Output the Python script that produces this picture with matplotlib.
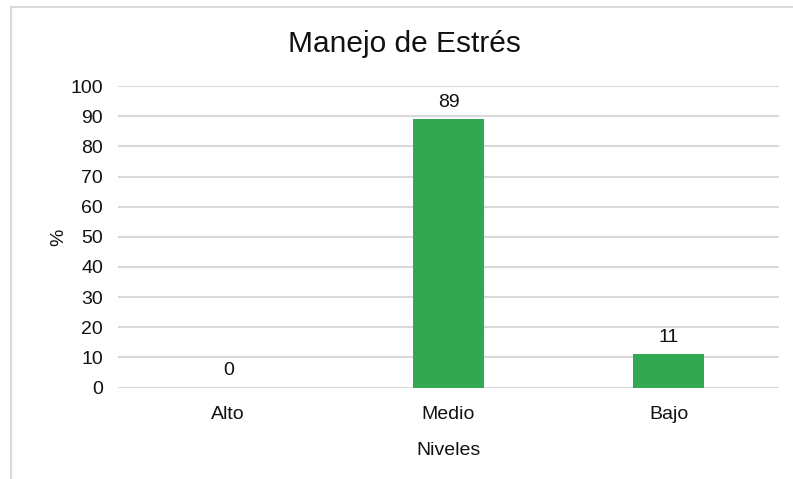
import numpy as np
import matplotlib.pyplot as plt
from matplotlib.patches import Rectangle

plt.rc('font', family='Liberation Sans', size=14)

niveles = ['Alto', 'Medio', 'Bajo']
porcentajes = [0, 89, 11]

fig = plt.figure(figsize=(7.93, 4.79), dpi=100)
ax = fig.add_axes([0.149, 0.191, 0.833, 0.629])

# light frame around the chart area
fig.patches.append(Rectangle((11/793, -0.1), 1.2, 1 - 7/479 + 0.1,
                             transform=fig.transFigure, fill=False,
                             edgecolor='#D9D9D9', linewidth=1.5))

x = np.arange(len(niveles))
bars = ax.bar(x, porcentajes, width=0.32, color='#33A852', zorder=2)

for xi, v in zip(x, porcentajes):
    ax.annotate(str(v), (xi, v), xytext=(0, 6), textcoords='offset points',
                ha='center', va='bottom', fontsize=14, color='#111111')

ax.set_xlim(-0.5, 2.5)
ax.set_ylim(0, 100)
ax.set_yticks(np.arange(0, 101, 10))
ax.set_xticks(x)
ax.set_xticklabels(niveles)
ax.yaxis.grid(True, color='#D9D9D9', linewidth=1.5, zorder=0)
ax.set_axisbelow(True)
for s in ax.spines.values():
    s.set_visible(False)
ax.tick_params(axis='both', length=0, colors='#111111', labelsize=14)
ax.tick_params(axis='y', pad=11)
ax.tick_params(axis='x', pad=13)

ax.set_xlabel('Niveles', fontsize=14, color='#111111', labelpad=14)
ax.set_ylabel('%', fontsize=14, color='#111111', labelpad=2)
fig.text(0.5 * (286 + 523) / 793, 1 - 44/479, 'Manejo de Estrés',
         ha='center', va='center', fontsize=21.5, color='#111111')

plt.savefig('out.png', dpi=100)
